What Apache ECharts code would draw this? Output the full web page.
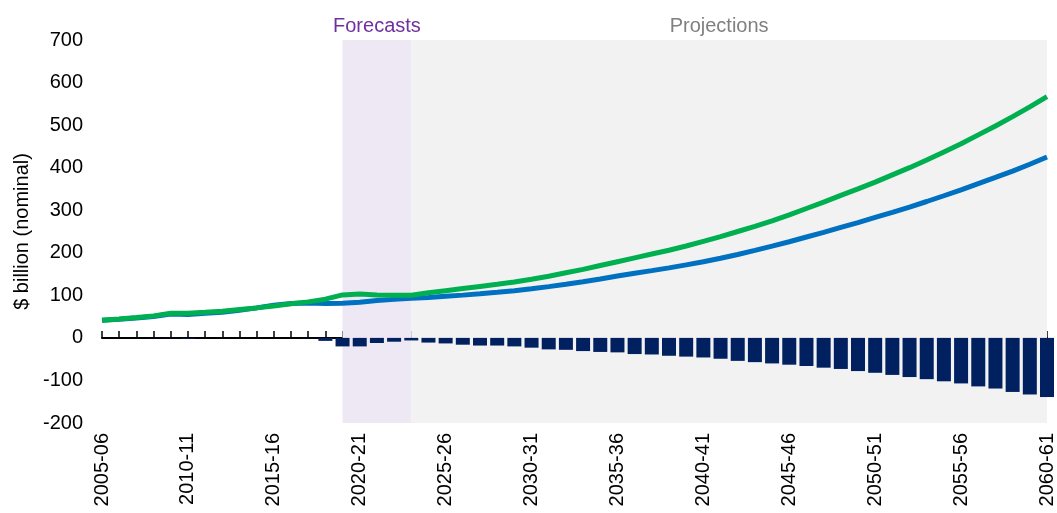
<!DOCTYPE html>
<html>
<head>
<meta charset="utf-8">
<title>Revenues, expenditure and primary balance</title>
<script src="https://cdn.jsdelivr.net/npm/echarts@6/dist/echarts.min.js"></script>
<style>
  html, body { margin: 0; padding: 0; background: #fff; }
  #chart { width: 1057px; height: 513px; }
</style>
</head>
<body>
<div id="chart"></div>
<script>
// financial years 2005-06 .. 2060-61
var years = [];
for (var y = 2005; y <= 2060; y++) {
  years.push(y + '-' + String((y + 1) % 100).padStart(2, '0'));
}

// $ billion (nominal)
var expenditure = [
  41.5, 44.6, 47.8, 51.7, 58, 58, 60, 62.7, 66.6, 70.5,
  75, 80, 84.6, 91, 101, 103.4, 101, 100, 100, 106,
  111, 116, 121, 126, 131.5, 138, 145, 153, 161, 170,
  179, 188, 197, 206, 216, 227, 238, 250, 262, 275,
  289, 304, 319, 335, 350, 366, 383, 400, 418, 437,
  456, 477, 498, 520, 543, 567
];
var revenues = [
  41.5, 44, 47, 50.5, 56, 55, 58, 60, 65, 70.5,
  77, 81, 82, 81, 81.5, 84, 88, 90.5, 93, 95,
  98, 100.5, 103.5, 107, 111, 115.5, 120.5, 126, 132, 138.5,
  145.5, 152, 158, 164.5, 171.5, 179, 187, 196, 205.5, 215.5,
  226, 237, 248, 259.5, 271, 283, 295, 307.5, 320.5, 334,
  348, 362.5, 377, 392, 408, 425
];
var primaryBalance = [
  0, 0, 0, -0.5, -0.5, -2, 0, -0.5, 0, 0,
  0, 0, -1, -7, -20, -20, -12, -9, -6, -11,
  -13, -16, -18, -18, -20, -23, -27, -28, -31, -33,
  -34, -38, -39, -42, -44, -46, -49, -54, -57, -60,
  -63, -66, -70, -73, -78, -82, -87, -92, -97, -102,
  -107, -114, -119, -127, -133, -139
];

var forecastStart = '2019-20';
var projectionStart = '2023-24';
var lastYear = '2060-61';

var FONT = 'Liberation Sans, Arial, sans-serif';

var chart = echarts.init(document.getElementById('chart'));

var option = {
  animation: false,
  textStyle: { fontFamily: FONT },
  grid: { left: 102, right: 10, top: 40, bottom: 90 },
  xAxis: [
    {
      // labels along the bottom
      type: 'category',
      data: years,
      boundaryGap: false,
      axisLine: { show: false, onZero: false },
      axisTick: { show: false },
      axisLabel: {
        rotate: 90,
        interval: 4,
        margin: 10,
        fontSize: 20,
        color: '#000',
        fontFamily: FONT
      }
    },
    {
      // zero line with ticks
      type: 'category',
      data: years,
      position: 'bottom',
      boundaryGap: false,
      axisLine: { onZero: true, lineStyle: { color: '#000', width: 2 } },
      axisTick: { show: true, inside: true, length: 7, interval: 0, lineStyle: { color: '#000', width: 1.5 } },
      axisLabel: { show: false }
    }
  ],
  yAxis: {
    type: 'value',
    min: -200,
    max: 700,
    interval: 100,
    name: '$ billion (nominal)',
    nameLocation: 'middle',
    nameGap: 70,
    nameTextStyle: { fontSize: 20, color: '#000', fontFamily: FONT },
    axisLine: { show: false },
    axisTick: { show: false },
    splitLine: { show: false },
    axisLabel: { fontSize: 20, color: '#000', margin: 19, fontFamily: FONT }
  },
  series: [
    {
      // carries the shaded forecast / projection periods behind everything
      name: 'periods',
      type: 'line',
      data: revenues,
      symbol: 'none',
      silent: true,
      lineStyle: { opacity: 0 },
      z: 1,
      markArea: {
        silent: true,
        data: [
          [
            {
              xAxis: forecastStart,
              itemStyle: { color: '#ede8f4' },
              label: { show: true, position: 'top', distance: 4, formatter: 'Forecasts', color: '#7030a0', fontSize: 20, fontFamily: FONT }
            },
            { xAxis: projectionStart }
          ],
          [
            {
              xAxis: projectionStart,
              itemStyle: { color: '#f2f2f2' },
              label: { show: true, position: 'top', distance: 4, offset: [-10, 0], formatter: 'Projections', color: '#808080', fontSize: 20, fontFamily: FONT }
            },
            { xAxis: lastYear }
          ]
        ]
      }
    },
    {
      name: 'Primary balance',
      type: 'bar',
      data: primaryBalance,
      barWidth: 14,
      clip: false,
      itemStyle: { color: '#002060' },
      z: 3
    },
    {
      name: 'Revenues',
      type: 'line',
      data: revenues,
      symbol: 'none',
      lineStyle: { color: '#0070c0', width: 5 },
      z: 4
    },
    {
      name: 'Expenditure',
      type: 'line',
      data: expenditure,
      symbol: 'none',
      lineStyle: { color: '#00b050', width: 5 },
      z: 5
    }
  ],
  graphic: [
    { type: 'text', left: 809, top: 133, style: { text: 'Expenditure', fill: '#00b050', fontSize: 20, fontFamily: FONT } },
    { type: 'text', left: 926, top: 217, style: { text: 'Revenues', fill: '#0070c0', fontSize: 20, fontFamily: FONT } },
    { type: 'text', left: 777, top: 310, style: { text: 'Primary balance', fill: '#203864', fontSize: 20, fontFamily: FONT } }
  ]
};

chart.setOption(option);
</script>
</body>
</html>
